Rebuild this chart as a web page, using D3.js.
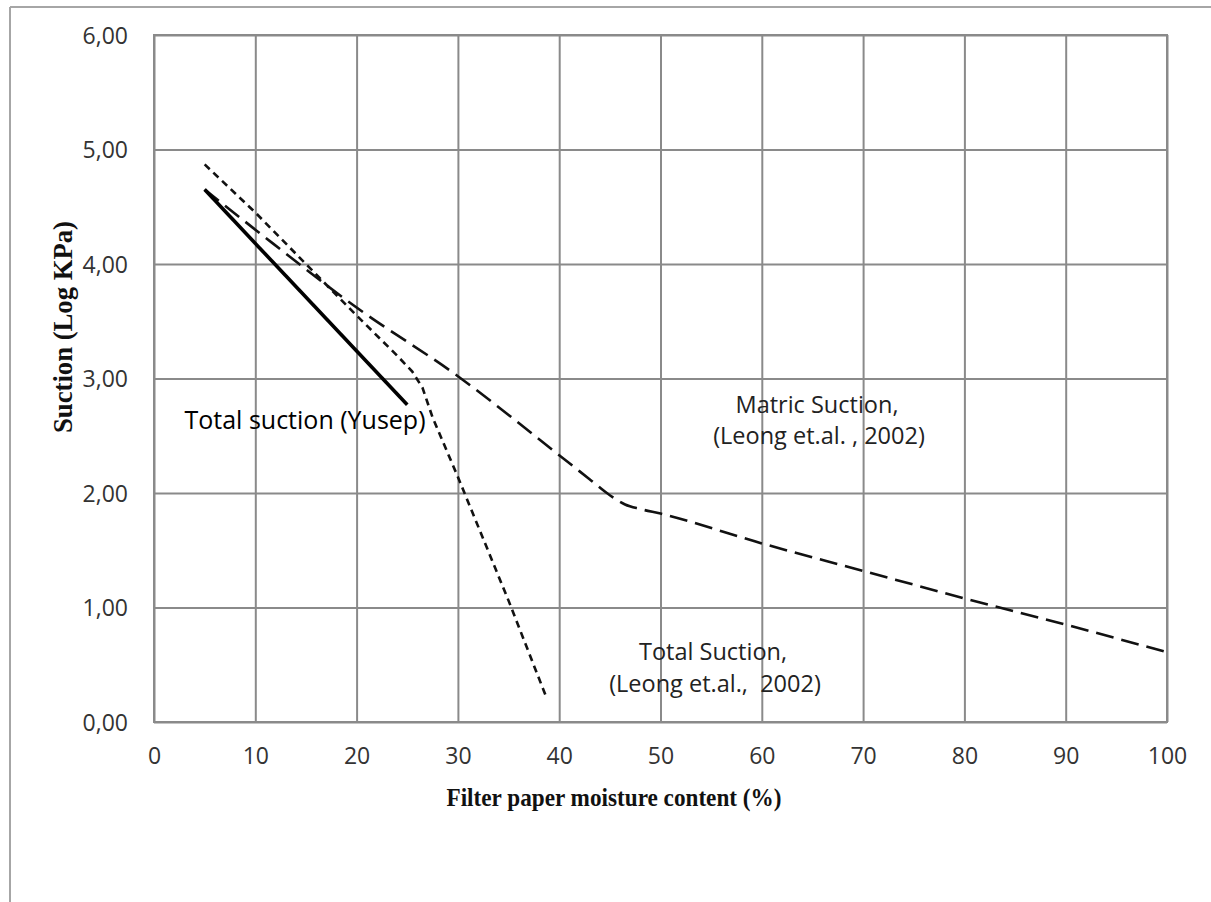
<!DOCTYPE html>
<html>
<head>
<meta charset="utf-8">
<script src="https://cdn.jsdelivr.net/npm/d3@7"></script>
<style>
    body { margin: 0; background: #fff; }
    svg { display: block; }
</style>
</head>
<body>
<div id="chart"></div>
<script>
// tick values on both axes
const xTicks = [0, 10, 20, 30, 40, 50, 60, 70, 80, 90, 100];
const yTicks = [0, 1, 2, 3, 4, 5, 6];

// Total suction (Yusep) - solid
const yusepX = [5, 25];
const yusepY = [4.65, 2.77];

// Total suction (Leong et.al., 2002) - short dash
const leongTotalX = [5, 10, 15, 20, 24, 25.5, 26.5, 27.5, 30, 35, 38.8];
const leongTotalY = [4.87, 4.45, 4.0, 3.55, 3.2, 3.06, 2.92, 2.66, 2.14, 1.06, 0.2];

// Matric suction (Leong et.al., 2002) - long dash
const leongMatricX = [5, 10, 20, 30, 40, 43, 45, 46.5, 48, 50, 60, 70, 80, 90, 100];
const leongMatricY = [4.65, 4.3, 3.62, 3.02, 2.33, 2.12, 1.98, 1.9, 1.86, 1.82, 1.56, 1.32, 1.08, 0.85, 0.61];

const width = 1211;
const height = 902;
const margin = { top: 35, right: 44, bottom: 180, left: 154 };
const innerW = width - margin.left - margin.right;
const innerH = height - margin.top - margin.bottom;

const svg = d3.select("#chart")
    .append("svg")
    .attr("width", width)
    .attr("height", height);

// outer frame (only top and left edges are visible in the picture)
svg.append("line")
    .attr("x1", 10).attr("y1", 7).attr("x2", width).attr("y2", 7)
    .attr("stroke", "#a6a6a6").attr("stroke-width", 2);
svg.append("line")
    .attr("x1", 10).attr("y1", 7).attr("x2", 10).attr("y2", height)
    .attr("stroke", "#a6a6a6").attr("stroke-width", 2);

const g = svg.append("g")
    .attr("transform", `translate(${margin.left},${margin.top})`);

const x = d3.scaleLinear().domain([0, 100]).range([0, innerW]);
const y = d3.scaleLinear().domain([0, 6]).range([innerH, 0]);

// grid
g.append("g")
    .attr("class", "grid")
    .attr("transform", `translate(0,${innerH})`)
    .call(d3.axisBottom(x).tickValues(xTicks).tickSize(-innerH).tickFormat(""))
    .call(a => a.select(".domain").remove());
g.append("g")
    .attr("class", "grid")
    .call(d3.axisLeft(y).tickValues(yTicks).tickSize(-innerW).tickFormat(""))
    .call(a => a.select(".domain").remove());
g.selectAll(".grid line")
    .attr("stroke", "#8a8a8a")
    .attr("stroke-width", 2);

g.append("rect")
    .attr("width", innerW)
    .attr("height", innerH)
    .attr("fill", "none")
    .attr("stroke", "#8a8a8a")
    .attr("stroke-width", 2);

// tick labels
const xAxis = g.append("g")
    .attr("transform", `translate(0,${innerH})`)
    .call(d3.axisBottom(x).tickValues(xTicks).tickSize(0).tickPadding(26));
xAxis.select(".domain").remove();
xAxis.selectAll("text")
    .style("font-family", "'Open Sans', sans-serif")
    .style("font-size", "23px")
    .style("fill", "#333");

const yAxis = g.append("g")
    .call(d3.axisLeft(y).tickValues(yTicks).tickSize(0).tickPadding(26)
        .tickFormat(d => d3.format(".2f")(d).replace(".", ",")));
yAxis.select(".domain").remove();
yAxis.selectAll("text")
    .attr("dy", "0.35em")
    .style("font-family", "'Open Sans', sans-serif")
    .style("font-size", "23px")
    .style("fill", "#333");

// axis titles
svg.append("text")
    .attr("x", 614)
    .attr("y", 806)
    .attr("text-anchor", "middle")
    .attr("textLength", 335)
    .attr("lengthAdjust", "spacingAndGlyphs")
    .style("font-family", "'Liberation Serif', 'Times New Roman', serif")
    .style("font-weight", "bold")
    .style("font-size", "25px")
    .style("fill", "#111")
    .text("Filter paper moisture content (%)");

svg.append("text")
    .attr("transform", "translate(72,327) rotate(-90)")
    .attr("text-anchor", "middle")
    .attr("textLength", 212)
    .attr("lengthAdjust", "spacingAndGlyphs")
    .style("font-family", "'Liberation Serif', 'Times New Roman', serif")
    .style("font-weight", "bold")
    .style("font-size", "27px")
    .style("fill", "#111")
    .text("Suction (Log KPa)");

// series
const line = d3.line()
    .x(d => x(d[0]))
    .y(d => y(d[1]));

g.append("path")
    .datum(leongMatricX.map((v, i) => [v, leongMatricY[i]]))
    .attr("d", line.curve(d3.curveMonotoneX))
    .attr("fill", "none")
    .attr("stroke", "#111")
    .attr("stroke-width", 2.6)
    .attr("stroke-dasharray", "18,8");

g.append("path")
    .datum(leongTotalX.map((v, i) => [v, leongTotalY[i]]))
    .attr("d", line.curve(d3.curveLinear))
    .attr("fill", "none")
    .attr("stroke", "#111")
    .attr("stroke-width", 2.6)
    .attr("stroke-dasharray", "7,5");

g.append("path")
    .datum(yusepX.map((v, i) => [v, yusepY[i]]))
    .attr("d", line.curve(d3.curveLinear))
    .attr("fill", "none")
    .attr("stroke", "#000")
    .attr("stroke-width", 3.6);

// annotations (page pixels)
svg.append("text")
    .attr("x", 305)
    .attr("y", 429)
    .attr("text-anchor", "middle")
    .style("font-family", "'Open Sans', sans-serif")
    .style("font-size", "25px")
    .style("fill", "#000")
    .style("white-space", "pre")
    .text("Total suction (Yusep)");

const matric = svg.append("text")
    .attr("text-anchor", "middle")
    .style("font-family", "'Open Sans', sans-serif")
    .style("font-size", "23.5px")
    .style("fill", "#222")
    .style("white-space", "pre");
matric.append("tspan").attr("x", 817).attr("y", 413).text("Matric Suction,");
matric.append("tspan").attr("x", 819).attr("y", 444).text("(Leong et.al. , 2002)");

const total = svg.append("text")
    .attr("text-anchor", "middle")
    .style("font-family", "'Open Sans', sans-serif")
    .style("font-size", "23.5px")
    .style("fill", "#222")
    .style("white-space", "pre");
total.append("tspan").attr("x", 713).attr("y", 660).text("Total Suction,");
total.append("tspan").attr("x", 715).attr("y", 692).text("(Leong et.al.,  2002)");
</script>
</body>
</html>
